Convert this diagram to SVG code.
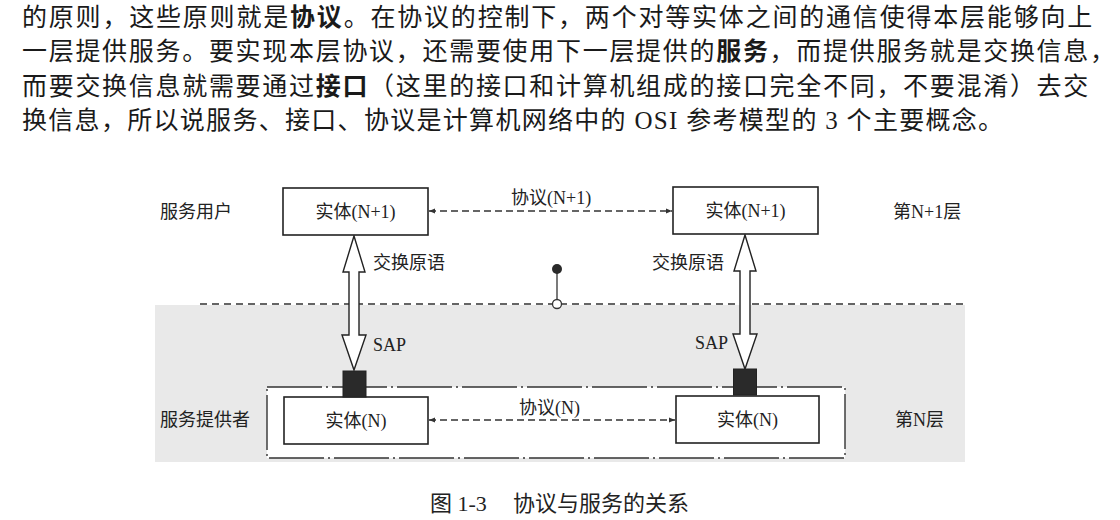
<svg xmlns="http://www.w3.org/2000/svg" width="1120" height="520" viewBox="0 0 1120 520">
<style>
.body{font-family:"Liberation Serif","Noto Sans CJK SC",serif;font-size:25px;fill:#1a1a1a}
.b{font-weight:bold}
.lbl{font-family:"Liberation Serif","Noto Sans CJK SC",serif;font-size:18px;fill:#222}
.box{fill:#fff;stroke:#222;stroke-width:1.6}
.dash{fill:none;stroke:#333;stroke-width:1.3;stroke-dasharray:7 4}
.hollow{fill:#fff;stroke:#222;stroke-width:1.4;stroke-linejoin:miter}
.sap{fill:#2a2a2a;stroke:#222;stroke-width:1}
</style>
<defs>
<marker id="ah" viewBox="0 0 10 10" refX="10" refY="5" markerWidth="7" markerHeight="6" orient="auto-start-reverse" markerUnits="userSpaceOnUse">
<path d="M0,1 L10,5 L0,9 Z" fill="#333"/>
</marker>
</defs>
<rect width="1120" height="520" fill="#fff"/>

<g id="paragraph">
<text class="body" x="22" y="26" letter-spacing="1.8">的原则，这些原则就是<tspan class="b">协议</tspan>。在协议的控制下，两个对等实体之间的通信使得本层能够向上</text>
<text class="body" x="22" y="60" letter-spacing="1.7">一层提供服务。要实现本层协议，还需要使用下一层提供的<tspan class="b">服务</tspan>，而提供服务就是交换信息，</text>
<text class="body" x="22" y="95" letter-spacing="1.7">而要交换信息就需要通过<tspan class="b">接口</tspan>（这里的接口和计算机组成的接口完全不同，不要混淆）去交</text>
<text class="body" x="22" y="129" letter-spacing="1.3">换信息，所以说服务、接口、协议是计算机网络中的 OSI 参考模型的 3 个主要概念。</text>
</g>

<rect id="scan-shade" x="155" y="305" width="810" height="157" fill="#e9e9e9"/>

<g id="layer-boundary">
<line x1="200" y1="304" x2="965" y2="304" stroke="#333" stroke-width="1.3" stroke-dasharray="7 5"/>
</g>

<g id="provider">
<rect x="267" y="387" width="578" height="71" fill="#fff" stroke="#333" stroke-width="1.4" stroke-dasharray="55 4 2 4"/>
</g>

<g id="connectors">
<line class="dash" x1="429" y1="211" x2="672" y2="211" marker-start="url(#ah)" marker-end="url(#ah)"/>
<line class="dash" x1="429" y1="420" x2="675" y2="420" marker-start="url(#ah)" marker-end="url(#ah)"/>
<path class="hollow" d="M354,236 L365,272 L359,272 L359,335 L366,335 L354,370 L342,335 L349,335 L349,272 L343,272 Z"/>
<path class="hollow" d="M745,235 L756,271 L750,271 L750,334 L757,334 L745,369 L733,334 L740,334 L740,271 L734,271 Z"/>
<line x1="557" y1="272" x2="557" y2="300" stroke="#333" stroke-width="1.3"/>
</g>

<g id="entity-n1-left">
<rect class="box" x="283" y="188" width="145" height="47"/>
<text class="lbl" x="355.5" y="218" text-anchor="middle">实体(N+1)</text>
</g>
<g id="entity-n1-right">
<rect class="box" x="673" y="187" width="145" height="47"/>
<text class="lbl" x="745.5" y="217" text-anchor="middle">实体(N+1)</text>
</g>
<g id="entity-n-left">
<rect class="box" x="284" y="397" width="144" height="47"/>
<text class="lbl" x="356" y="427" text-anchor="middle">实体(N)</text>
</g>
<g id="entity-n-right">
<rect class="box" x="676" y="396" width="143" height="47"/>
<text class="lbl" x="747.5" y="426" text-anchor="middle">实体(N)</text>
</g>
<g id="sap-left">
<rect class="sap" x="343" y="371" width="23" height="26"/>
</g>
<g id="sap-right">
<rect class="sap" x="733.5" y="369" width="23" height="26"/>
</g>
<g id="lollipop">
<circle cx="557" cy="269" r="5" fill="#2a2a2a"/>
<circle cx="557" cy="304" r="4.5" fill="#fff" stroke="#333" stroke-width="1.3"/>
</g>

<g id="labels">
<text class="lbl" x="160" y="218">服务用户</text>
<text class="lbl" x="893" y="218">第N+1层</text>
<text class="lbl" x="160" y="426">服务提供者</text>
<text class="lbl" x="895" y="426">第N层</text>
<text class="lbl" x="511" y="204">协议(N+1)</text>
<text class="lbl" x="519" y="414">协议(N)</text>
<text class="lbl" x="373" y="269">交换原语</text>
<text class="lbl" x="724" y="269" text-anchor="end">交换原语</text>
<text class="lbl" x="373" y="351">SAP</text>
<text class="lbl" x="728" y="349" text-anchor="end">SAP</text>
</g>

<g id="caption">
<text class="lbl" style="font-size:22px" y="511"><tspan x="430">图 1-3</tspan><tspan x="513">协议与服务的关系</tspan></text>
</g>
</svg>
